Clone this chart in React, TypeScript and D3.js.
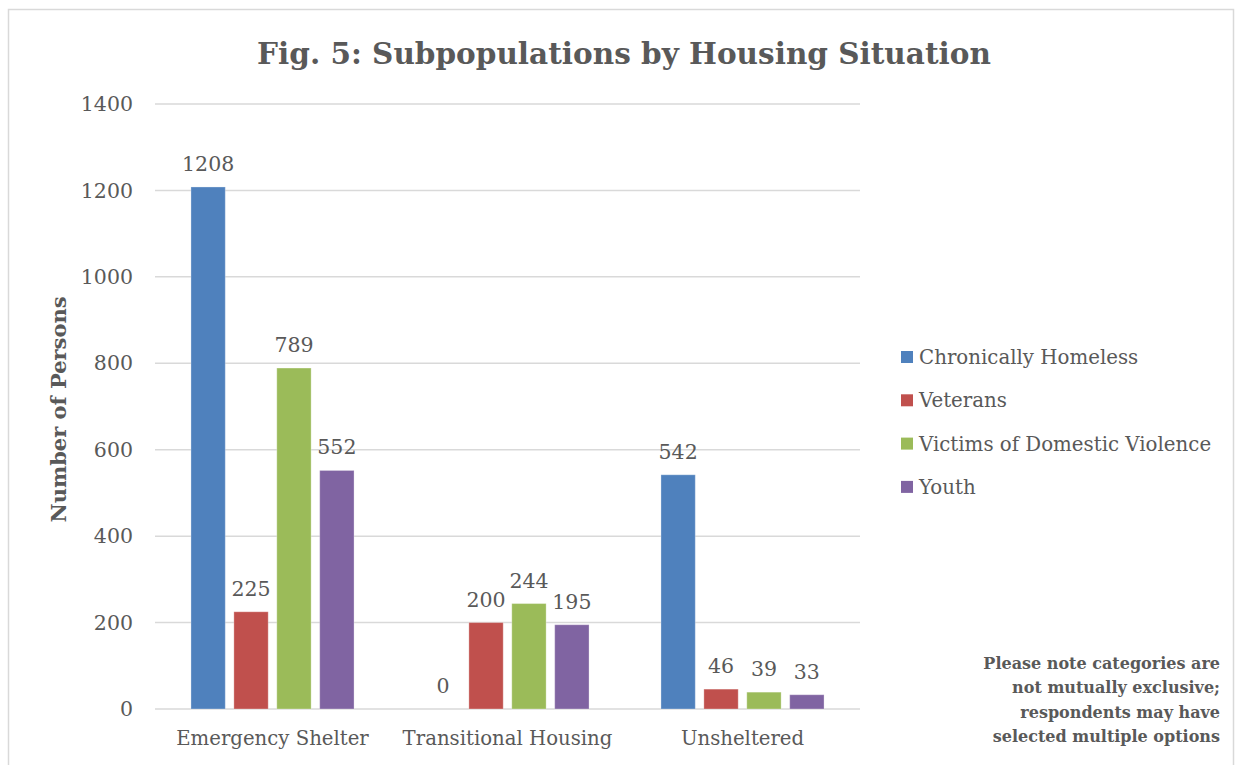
import React from 'react';
import * as d3 from 'd3';

const categories = ['Emergency Shelter', 'Transitional Housing', 'Unsheltered'];
const seriesNames = ['Chronically Homeless', 'Veterans', 'Victims of Domestic Violence', 'Youth'];
const chronicallyHomeless = [1208, 0, 542];
const veterans = [225, 200, 46];
const victimsDomesticViolence = [789, 244, 39];
const youth = [552, 195, 33];
const yTicks = [0, 200, 400, 600, 800, 1000, 1200, 1400];
const seriesColors = ['#4f81bd', '#c0504d', '#9bbb59', '#8064a2'];
const noteLines = ['Please note categories are', 'not mutually exclusive;', 'respondents may have', 'selected multiple options'];

const seriesValues = [chronicallyHomeless, veterans, victimsDomesticViolence, youth];

const FONT = '"DejaVu Serif", serif';
const TEXT = '#595959';

export default function App() {
  const W = 1238;
  const H = 765;
  const plot = { left: 155, right: 860, top: 104, bottom: 709 };

  const y = d3.scaleLinear().domain([0, 1400]).range([plot.bottom, plot.top]);
  const x0 = d3.scaleBand<string>().domain(categories).range([plot.left, plot.right]).paddingInner(0.306).paddingOuter(0.153);
  const x1 = d3.scaleBand<string>().domain(seriesNames).range([0, x0.bandwidth()]).paddingInner(0.2);

  return (
    <svg width={W} height={H} style={{ position: 'absolute', left: 0, top: 0, background: '#fff' }}>
      <rect x={8.5} y={9.5} width={1225} height={800} fill="#fff" stroke="#d9d9d9" strokeWidth={1.5} />
      <text x={624} y={64} textAnchor="middle" fontFamily={FONT} fontWeight="bold" fontSize={29.5} fill={TEXT}>
        Fig. 5: Subpopulations by Housing Situation
      </text>
      {yTicks.map((t) => (
        <g key={t}>
          <line x1={plot.left} x2={plot.right} y1={y(t)} y2={y(t)} stroke="#d9d9d9" strokeWidth={1.5} />
          <text x={133} y={y(t)} dy="0.35em" textAnchor="end" fontFamily={FONT} fontSize={20.5} fill={TEXT}>{t}</text>
        </g>
      ))}
      <text transform={`translate(66,${(plot.top + plot.bottom) / 2 + 3}) rotate(-90)`} textAnchor="middle" fontFamily={FONT} fontWeight="bold" fontSize={21} fill={TEXT}>
        Number of Persons
      </text>
      {categories.map((c, ci) => (
        <g key={c} transform={`translate(${x0(c)},0)`}>
          {seriesNames.map((s, si) => {
            const v = seriesValues[si][ci];
            const bx = x1(s)!;
            return (
              <g key={s}>
                {v > 0 && (
                  <rect x={bx} y={y(v)} width={x1.bandwidth()} height={y(0) - y(v)} fill={seriesColors[si]} stroke="#fff" strokeOpacity={0.3} />
                )}
                <text x={bx + x1.bandwidth() / 2} y={y(v) - 16} textAnchor="middle" fontFamily={FONT} fontSize={20.5} fill={TEXT}>{v}</text>
              </g>
            );
          })}
          <text x={x0.bandwidth() / 2} y={745} textAnchor="middle" fontFamily={FONT} fontSize={19.7} fill={TEXT}>{c}</text>
        </g>
      ))}
      {seriesNames.map((s, i) => (
        <g key={s} transform={`translate(901,${357 + i * 43.3})`}>
          <rect x={0} y={-6} width={12} height={12} fill={seriesColors[i]} />
          <text x={18} y={0} dy="0.35em" fontFamily={FONT} fontSize={19.8} fill={TEXT}>{s}</text>
        </g>
      ))}
      {noteLines.map((l, i) => (
        <text key={l} x={1220} y={663 + i * 24.5} dy="0.35em" textAnchor="end" fontFamily={FONT} fontWeight="bold" fontSize={16} fill={TEXT}>{l}</text>
      ))}
    </svg>
  );
}
